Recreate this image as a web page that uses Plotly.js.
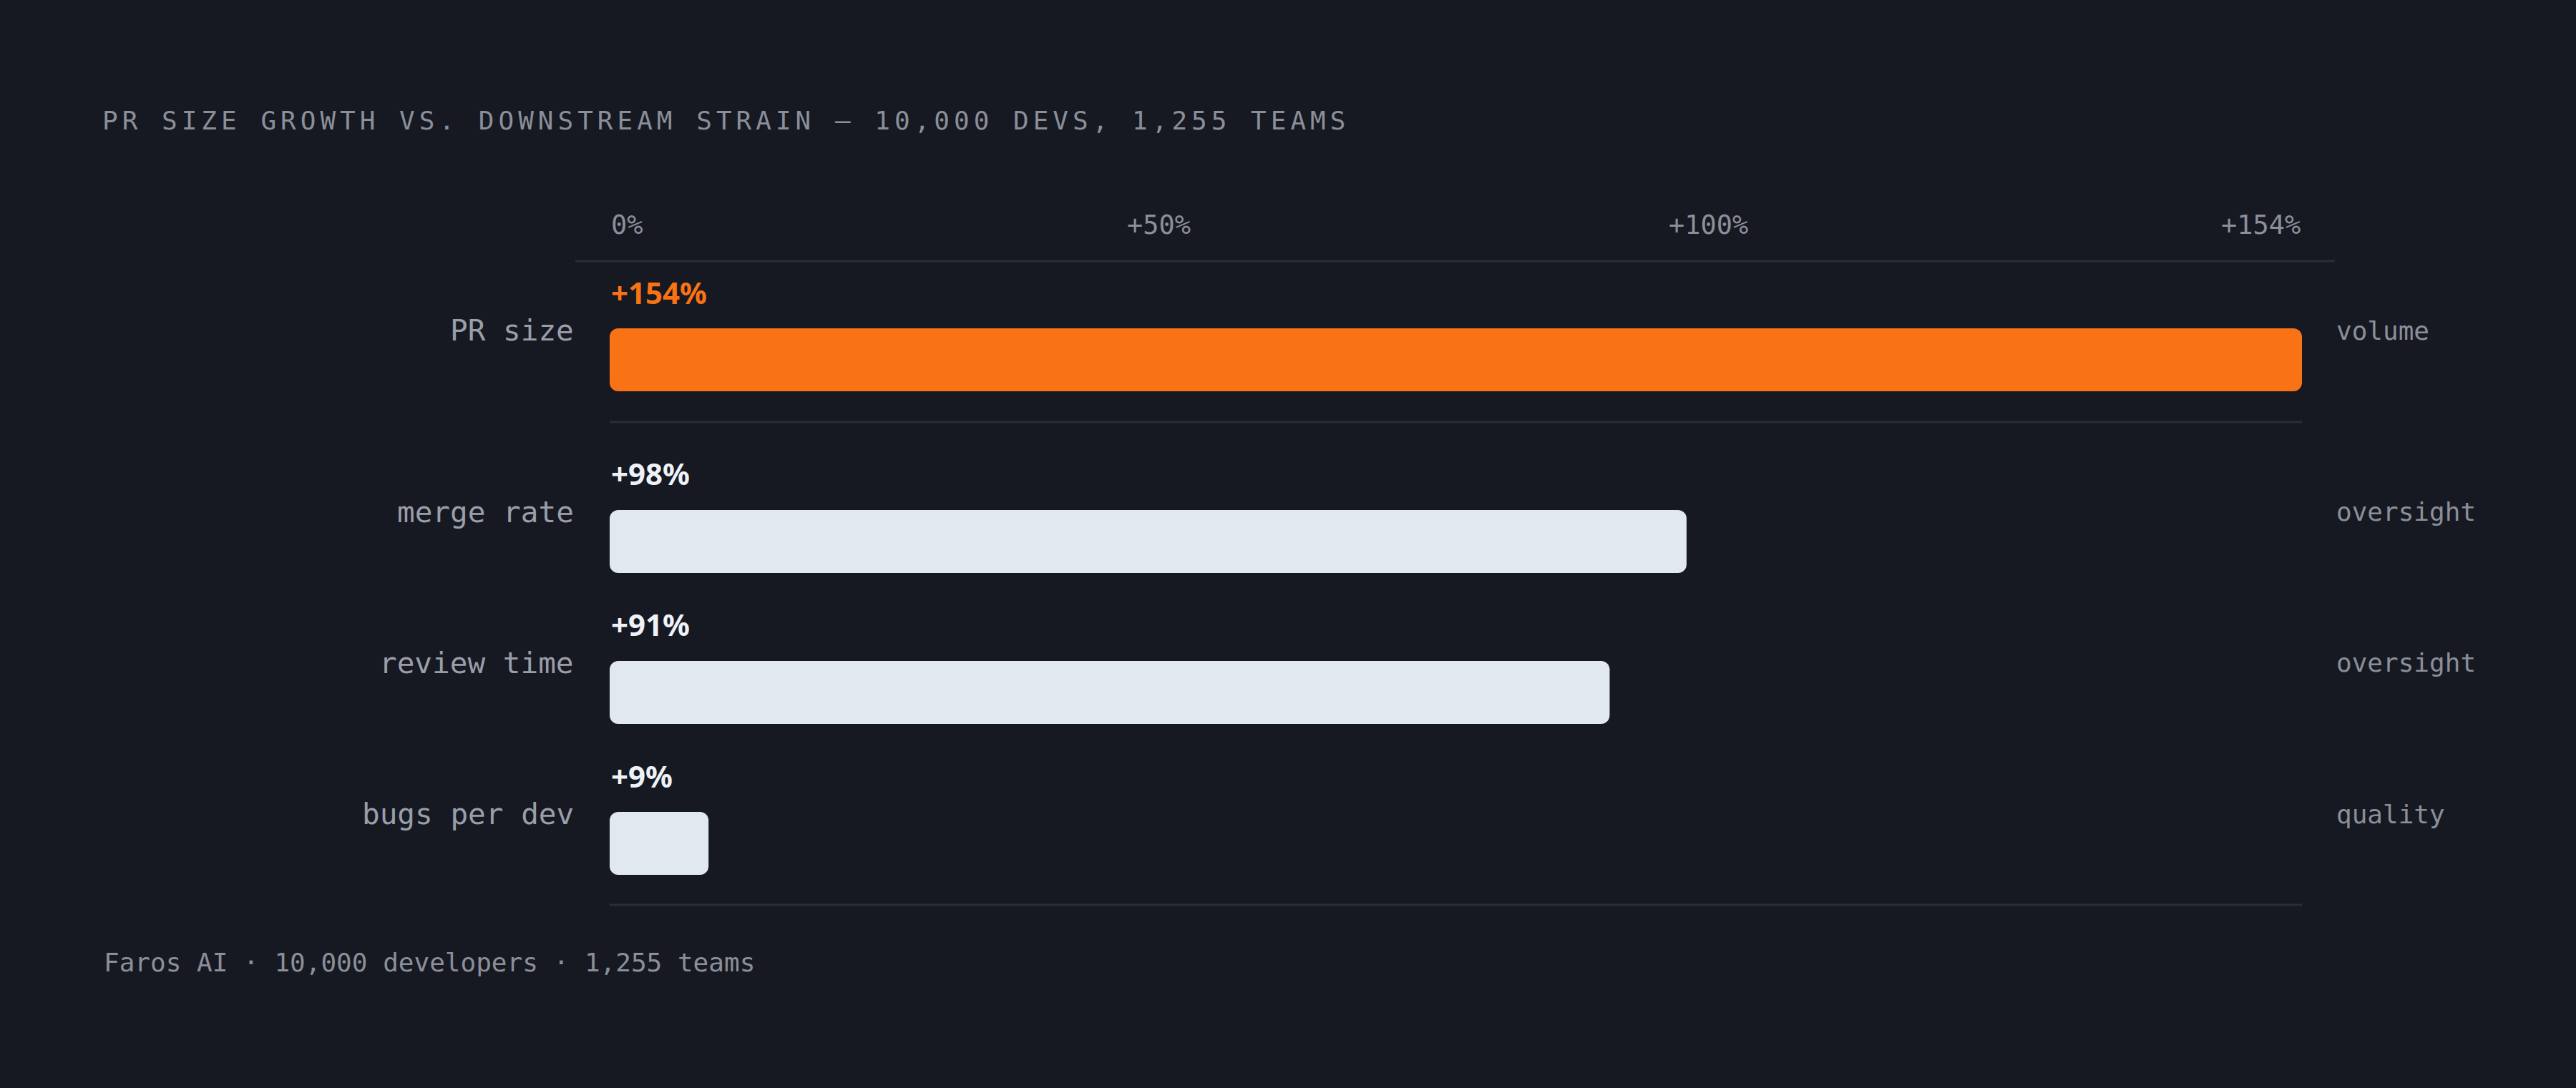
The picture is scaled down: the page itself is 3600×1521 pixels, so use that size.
<!DOCTYPE html>
<html>
<head>
<meta charset="utf-8">
<script src="https://cdn.plot.ly/plotly-3.0.1.min.js"></script>
<style>
  html, body { margin: 0; padding: 0; background: #161922; }
  #chart { width: 3600px; height: 1521px; }
  .gtitle { letter-spacing: 6px; }
</style>
</head>
<body>
<div id="chart"></div>
<script>
// values
const top_category = ['PR size'];
const top_values = [154];
const top_groups = ['volume'];

const bottom_categories = ['merge rate', 'review time', 'bugs per dev'];
const bottom_values = [98, 91, 9];
const bottom_groups = ['oversight', 'oversight', 'quality'];

const tick_values = [0, 50, 100, 154];
const tick_labels = ['0%', '+50%', '+100%', '+154%'];

const mono = 'DejaVu Sans Mono, Liberation Mono, monospace';
const grey = '#8b8f99';
const orange = '#f97316';
const light = '#e2e8f0';
const rule = '#2b2e37';

const fmt = v => '+' + v + '%';

// an explicit base makes plotly round both ends of the bar, not just the tip
function roundedBar(cats, vals, yaxis, color) {
    return {
        type: 'bar', orientation: 'h', x: vals, y: cats, base: vals.map(() => 0),
        yaxis: yaxis,
        marker: {color: color, cornerradius: 12, line: {width: 0}},
        hoverinfo: 'skip'
    };
}

const traces = [
    roundedBar(top_category, top_values, 'y', orange),
    roundedBar(bottom_categories, bottom_values, 'y2', light)
];

const annotations = [];

// axis labels along the top
tick_values.forEach((v, i) => {
    const anchor = i === 0 ? 'left' : (i === tick_values.length - 1 ? 'right' : 'center');
    annotations.push({
        xref: 'x', yref: 'paper', x: v, y: 1 - 315 / 1521,
        text: tick_labels[i], showarrow: false,
        xanchor: anchor, yanchor: 'middle',
        font: {family: mono, size: 37, color: grey}
    });
});

// per-row labels: value above the bar, name on the left, group on the right
function rowLabels(cats, vals, groups, yref, valueColor) {
    cats.forEach((c, i) => {
        annotations.push({
            xref: 'x', yref: yref, x: 0, y: c,
            text: fmt(vals[i]), showarrow: false,
            xanchor: 'left', yanchor: 'middle', yshift: 95,
            font: {family: 'Noto Sans, Inter, sans-serif', size: 42, weight: 700, color: valueColor}
        });
        annotations.push({
            xref: 'paper', yref: yref, x: 0, y: c,
            text: c, showarrow: false,
            xanchor: 'right', yanchor: 'middle', xshift: -48, yshift: 41,
            font: {family: mono, size: 41, color: '#9a9ea8'}
        });
        annotations.push({
            xref: 'paper', yref: yref, x: 1, y: c,
            text: groups[i], showarrow: false,
            xanchor: 'left', yanchor: 'middle', xshift: 46, yshift: 41,
            font: {family: mono, size: 36, color: grey}
        });
    });
}
rowLabels(top_category, top_values, top_groups, 'y', orange);
rowLabels(bottom_categories, bottom_values, bottom_groups, 'y2', '#eef2f7');

// footer
annotations.push({
    xref: 'paper', yref: 'paper', x: (143 - 852) / 2365, y: 1 - 1345 / 1521,
    text: 'Faros AI · 10,000 developers · 1,255 teams', showarrow: false,
    xanchor: 'left', yanchor: 'middle',
    font: {family: mono, size: 36, color: grey}
});

const layout = {
    width: 3600,
    height: 1521,
    paper_bgcolor: '#161922',
    plot_bgcolor: '#161922',
    margin: {l: 852, r: 383, t: 0, b: 0, pad: 0},
    showlegend: false,
    bargap: 0.583,
    title: {
        text: 'PR SIZE GROWTH VS. DOWNSTREAM STRAIN — 10,000 DEVS, 1,255 TEAMS',
        xref: 'container', yref: 'container',
        x: 143 / 3600, y: 1 - 168 / 1521,
        xanchor: 'left', yanchor: 'middle',
        font: {family: mono, size: 36, color: grey}
    },
    xaxis: {
        range: [0, 154], visible: false, fixedrange: true
    },
    yaxis: {
        domain: [1 - 608.5 / 1521, 1 - 397.5 / 1521],
        range: [0.5, -0.5], visible: false, fixedrange: true
    },
    yaxis2: {
        domain: [1 - 1284.5 / 1521, 1 - 651.5 / 1521],
        range: [2.5, -0.5], visible: false, fixedrange: true
    },
    shapes: [
        {type: 'line', xref: 'paper', yref: 'paper', x0: -48 / 2365, x1: 1 + 46 / 2365,
         y0: 1 - 365 / 1521, y1: 1 - 365 / 1521, line: {color: rule, width: 3}},
        {type: 'line', xref: 'paper', yref: 'paper', x0: 0, x1: 1,
         y0: 1 - 590 / 1521, y1: 1 - 590 / 1521, line: {color: rule, width: 3}},
        {type: 'line', xref: 'paper', yref: 'paper', x0: 0, x1: 1,
         y0: 1 - 1265 / 1521, y1: 1 - 1265 / 1521, line: {color: rule, width: 3}}
    ],
    annotations: annotations
};

Plotly.newPlot('chart', traces, layout, {staticPlot: true, displayModeBar: false});
</script>
</body>
</html>
